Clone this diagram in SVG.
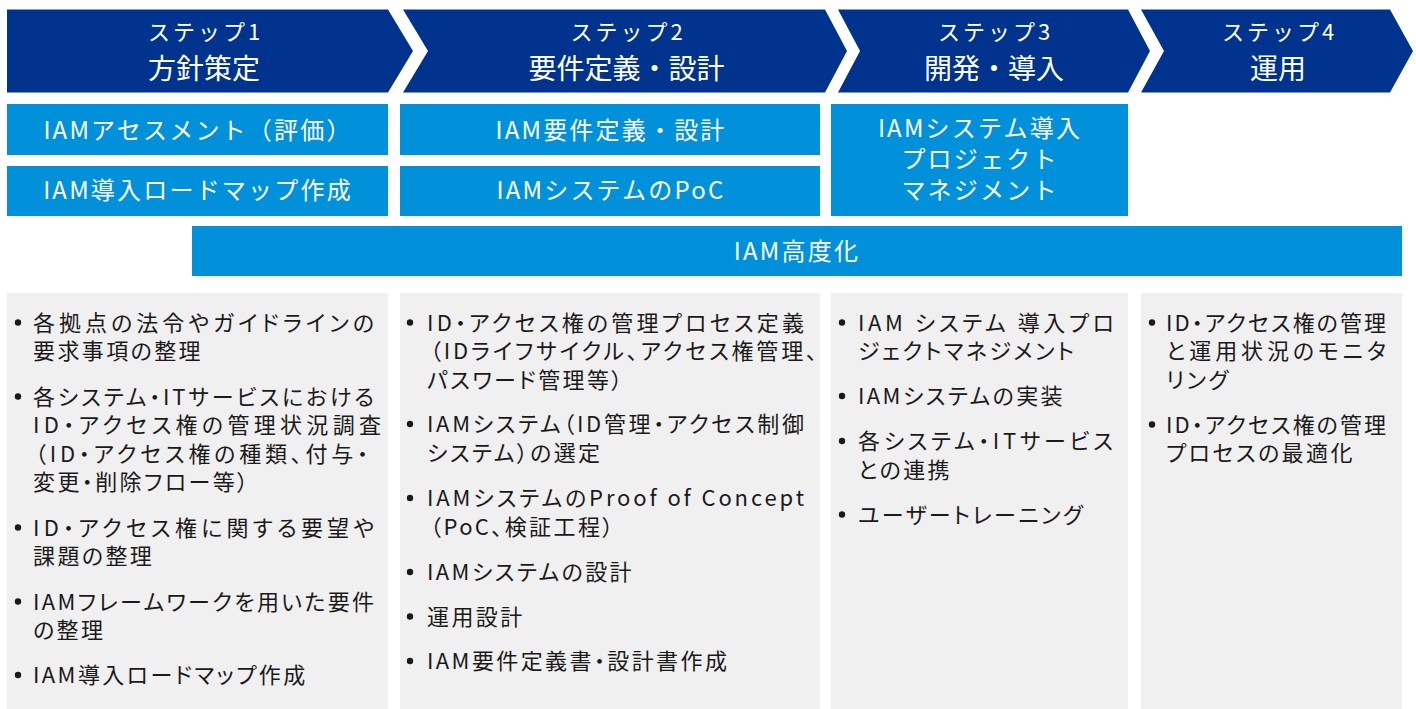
<svg xmlns="http://www.w3.org/2000/svg" width="1416" height="709" viewBox="0 0 1416 709">
<style>
.chev{fill:#00338D}
.blue{fill:#0091DA}
.col{fill:#F0F0F0}
.step{font-family:"Noto Sans CJK JP","Noto Sans",sans-serif;font-size:22px;fill:#fff;letter-spacing:3px;text-anchor:middle}
.title{font-family:"Noto Sans CJK JP","Noto Sans",sans-serif;font-size:28px;fill:#fff;text-anchor:middle}
.bt{font-family:"Noto Sans CJK JP","Noto Sans",sans-serif;font-size:24px;fill:#fff;letter-spacing:2.2px;text-anchor:middle}
.tx{font-family:"Noto Sans CJK JP","Noto Sans",sans-serif;font-size:22px;fill:#1a1a1a;font-feature-settings:"palt";letter-spacing:2.4px}
.j{letter-spacing:0}
.bu{fill:#1a1a1a}
</style>
<rect width="1416" height="709" fill="#fff"/>
<g id="step1">
<polygon class="chev" points="7,9.5 388,9.5 413,51 388,92.5 7,92.5"/>
<text class="step" x="205.5" y="39.5">ステップ1</text>
<text class="title" x="204" y="79">方針策定</text>
</g>
<g id="step2">
<polygon class="chev" points="403,9.5 825,9.5 847,51 825,92.5 403,92.5 428,51"/>
<text class="step" x="628" y="39.5">ステップ2</text>
<text class="title" x="626.5" y="79">要件定義・設計</text>
</g>
<g id="step3">
<polygon class="chev" points="838,9.5 1128,9.5 1150,51 1128,92.5 838,92.5 860,51"/>
<text class="step" x="995.5" y="39.5">ステップ3</text>
<text class="title" x="994" y="79">開発・導入</text>
</g>
<g id="step4">
<polygon class="chev" points="1141,9.5 1390,9.5 1413,51 1390,92.5 1141,92.5 1164,51"/>
<text class="step" x="1279.5" y="39.5">ステップ4</text>
<text class="title" x="1278" y="79">運用</text>
</g>
<g id="box-assessment">
<rect class="blue" x="7" y="104" width="381" height="51"/>
<text class="bt" x="198" y="139">IAMアセスメント（評価）</text>
</g>
<g id="box-roadmap">
<rect class="blue" x="7" y="166" width="381" height="50"/>
<text class="bt" x="198" y="199">IAM導入ロードマップ作成</text>
</g>
<g id="box-requirements">
<rect class="blue" x="400" y="104" width="420" height="51"/>
<text class="bt" x="611" y="139">IAM要件定義・設計</text>
</g>
<g id="box-poc">
<rect class="blue" x="400" y="166" width="420" height="50"/>
<text class="bt" x="611" y="199">IAMシステムのPoC</text>
</g>
<g id="box-pm">
<rect class="blue" x="831" y="104" width="297" height="112"/>
<text class="bt" x="980" y="137">IAMシステム導入</text>
<text class="bt" x="980" y="168">プロジェクト</text>
<text class="bt" x="980" y="199">マネジメント</text>
</g>
<g id="box-advance">
<rect class="blue" x="192" y="226" width="1210" height="50"/>
<text class="bt" x="797" y="260">IAM高度化</text>
</g>
<g id="col1">
<rect class="col" x="7" y="293" width="381" height="416"/>
<circle class="bu" cx="18" cy="322.5" r="3.2"/>
<text class="tx j" x="33" y="330.5" textLength="341" lengthAdjust="spacing">各拠点の法令やガイドラインの</text>
<text class="tx" x="33" y="359">要求事項の整理</text>
<circle class="bu" cx="18" cy="396.5" r="3.2"/>
<text class="tx j" x="33" y="404.5" textLength="341" lengthAdjust="spacing">各システム・ITサービスにおける</text>
<text class="tx j" x="33" y="433" textLength="348" lengthAdjust="spacing">ID・アクセス権の管理状況調査</text>
<text class="tx j" x="35" y="461.5" textLength="333" lengthAdjust="spacing">（ID・アクセス権の種類、付与・</text>
<text class="tx" x="33" y="490">変更・削除フロー等）</text>
<circle class="bu" cx="18" cy="527.5" r="3.2"/>
<text class="tx j" x="33" y="535.5" textLength="341" lengthAdjust="spacing">ID・アクセス権に関する要望や</text>
<text class="tx" x="33" y="564">課題の整理</text>
<circle class="bu" cx="18" cy="601.5" r="3.2"/>
<text class="tx j" x="33" y="609.5" textLength="341" lengthAdjust="spacing">IAMフレームワークを用いた要件</text>
<text class="tx" x="33" y="638">の整理</text>
<circle class="bu" cx="18" cy="675" r="3.2"/>
<text class="tx" x="33" y="683">IAM導入ロードマップ作成</text>
</g>
<g id="col2">
<rect class="col" x="400" y="293" width="420" height="416"/>
<circle class="bu" cx="410" cy="322.5" r="3.2"/>
<text class="tx j" x="427" y="330.5" textLength="377" lengthAdjust="spacing">ID・アクセス権の管理プロセス定義</text>
<text class="tx j" x="430" y="359" textLength="387" lengthAdjust="spacing">（IDライフサイクル、アクセス権管理、</text>
<text class="tx" x="427" y="387.5">パスワード管理等）</text>
<circle class="bu" cx="410" cy="424" r="3.2"/>
<text class="tx j" x="427" y="432" textLength="377" lengthAdjust="spacing">IAMシステム（ID管理・アクセス制御</text>
<text class="tx" x="427" y="460.5">システム）の選定</text>
<circle class="bu" cx="410" cy="498" r="3.2"/>
<text class="tx j" x="427" y="506" textLength="377" lengthAdjust="spacing">IAMシステムのProof of Concept</text>
<text class="tx" x="430" y="534.5">（PoC、検証工程）</text>
<circle class="bu" cx="410" cy="572" r="3.2"/>
<text class="tx" x="427" y="580">IAMシステムの設計</text>
<circle class="bu" cx="410" cy="616.5" r="3.2"/>
<text class="tx" x="427" y="624.5">運用設計</text>
<circle class="bu" cx="410" cy="661" r="3.2"/>
<text class="tx" x="427" y="669">IAM要件定義書・設計書作成</text>
</g>
<g id="col3">
<rect class="col" x="831" y="293" width="297" height="416"/>
<circle class="bu" cx="842" cy="322.5" r="3.2"/>
<text class="tx j" x="858" y="330.5" textLength="256" lengthAdjust="spacing">IAM システム 導入プロ</text>
<text class="tx" x="858" y="359">ジェクトマネジメント</text>
<circle class="bu" cx="842" cy="396" r="3.2"/>
<text class="tx" x="858" y="404">IAMシステムの実装</text>
<circle class="bu" cx="842" cy="441" r="3.2"/>
<text class="tx j" x="858" y="449" textLength="255" lengthAdjust="spacing">各システム・ITサービス</text>
<text class="tx" x="858" y="477.5">との連携</text>
<circle class="bu" cx="842" cy="514.5" r="3.2"/>
<text class="tx" x="858" y="522.5">ユーザートレーニング</text>
</g>
<g id="col4">
<rect class="col" x="1141" y="293" width="261" height="416"/>
<circle class="bu" cx="1152" cy="322.5" r="3.2"/>
<text class="tx j" x="1166" y="330.5" textLength="220" lengthAdjust="spacing">ID・アクセス権の管理</text>
<text class="tx j" x="1166" y="359" textLength="220" lengthAdjust="spacing">と運用状況のモニタ</text>
<text class="tx" x="1166" y="387.5">リング</text>
<circle class="bu" cx="1152" cy="424.5" r="3.2"/>
<text class="tx j" x="1166" y="432.5" textLength="220" lengthAdjust="spacing">ID・アクセス権の管理</text>
<text class="tx" x="1166" y="461">プロセスの最適化</text>
</g>
<g id="connectors"/>
</svg>
